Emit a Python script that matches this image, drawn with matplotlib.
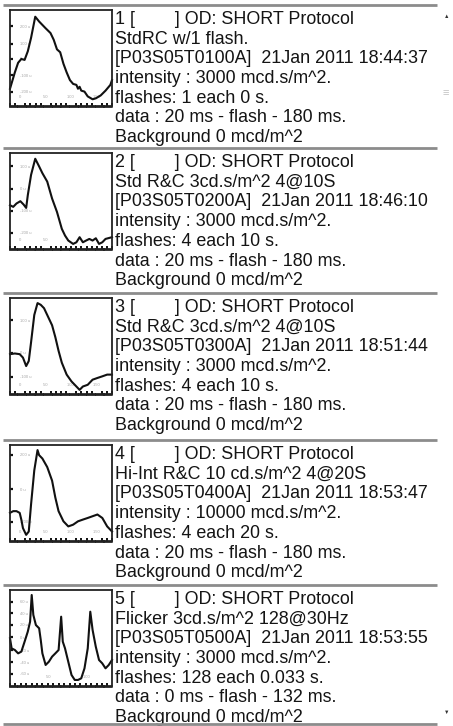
import matplotlib
matplotlib.use('Agg')
import matplotlib.pyplot as plt
from matplotlib.ticker import MultipleLocator

W, H = 453, 726
fig = plt.figure(figsize=(W / 100, H / 100), dpi=100)
FONT = ['Liberation Sans', 'DejaVu Sans']

# ---------------- data (time in ms, amplitude in relative units) ----------------
p1_t = [-20, -10.5, -4.1, 2.2, 8.6, 14.9, 21.3, 29.5, 37.1, 49.8, 59.4, 65.7, 72.1, 78.4, 84.8,
        91.1, 97.5, 103.8, 110.2, 113.3, 116.5, 119.7, 126, 132.4, 142, 148.3, 157.8, 167.3, 176.8, 180]
p1_a = [18, 35, 45, 49, 48, 57, 71, 93, 88, 81, 76, 69, 59, 56, 44,
        35, 27, 23, 22, 18, 20, 16, 15, 10, 7, 8, 11, 16, 22, 27]

p2_t = [-20, -13.7, -7.3, 0.3, 6.7, 11.7, 14.9, 21.3, 29.5, 37.1, 43.5, 53, 62.5, 72.1, 81.6,
        87.9, 94.3, 103.8, 110.2, 116.5, 122.9, 129.2, 135.6, 141.9, 148.3, 154.6, 161, 167.3, 180]
p2_a = [45.6, 43.9, 47.4, 49.8, 46.3, 42.8, 56.1, 77.2, 94, 86, 79, 70.2, 52.6, 38.6, 21,
        14, 8.8, 5.3, 7, 12.3, 7, 8.8, 10.5, 8.8, 11.2, 5.3, 7, 10.5, 12.3]

p3_t = [-20, -10.5, -1, 5.4, 11.7, 16.8, 21.3, 27.6, 34, 40.3, 46.7, 53, 62.5, 68.9, 75.2,
        81.6, 91.1, 100.6, 110.2, 116.5, 122.9, 132.4, 141.9, 151.4, 161, 170.5, 180]
p3_a = [41.5, 42.2, 41.5, 37.9, 29.1, 34.4, 53.9, 82.3, 94.7, 92.9, 89.4, 82.3, 71.6, 59.2, 45,
        32.6, 20.2, 13.1, 7.8, 4.3, 7.8, 9.6, 14.9, 16.7, 18.4, 20.2, 20.2]

p4_t = [-20, -13.7, -7.3, -1, 2.2, 5.4, 11.7, 16.8, 21.3, 27.6, 34, 37.1, 43.5, 53, 62.5,
        68.9, 75.2, 84.8, 94.3, 103.8, 113.3, 122.9, 132.4, 141.9, 151.4, 161, 170.5, 180]
p4_a = [29.3, 31.1, 31.1, 29.3, 22.3, 13.4, 6.4, 9.9, 38.2, 73.5, 94.7, 89.4, 85.9, 77, 62.9,
        45.2, 31.1, 20.5, 15.2, 17, 20.5, 22.3, 24, 25.8, 27.6, 24, 15.2, 9.9]

p5_t = [0, 2.1, 6.3, 10.5, 14.7, 18.9, 23, 26, 28.1, 30.2, 33.5, 37.7, 39.8, 41.9, 46.1, 50.3,
        54.5, 58.7, 62.9, 66.2, 68.3, 71.2, 75.4, 79.6, 83.8, 88, 92.2, 96.4, 100.6, 103.9,
        106.9, 111, 115.2, 119.4, 123.6, 127.8, 132]
p5_a = [49.7, 39.2, 37.5, 34, 35.8, 46.2, 56.6, 67, 94.8, 74, 63.5, 60.1, 47.9, 34, 21.9, 25.3,
        30.6, 34, 37.5, 72.2, 46.2, 39.2, 25.3, 11.5, 6.3, 6.3, 8, 18.4, 39.2, 77.4,
        58.3, 41, 27.1, 23.6, 18.4, 21.9, 27.1]

traces_t = [p1_t, p2_t, p3_t, p4_t, p5_t]
traces_a = [p1_a, p2_a, p3_a, p4_a, p5_a]

y_ticks = [[83, 65, 49, 32, 15], [86, 63, 40, 17], [77, 43, 18], [90, 54, 20],
           [88, 76, 64, 51, 37.5, 25, 13]]
y_tick_labels = [["200 u", "100 u", "0 u", "-100 u", "-200 u"],
                 ["100 u", "0 u", "-100 u", "-200 u"],
                 ["100 u", "0 u", "-100 u"],
                 ["200 u", "0 u", "-200 u"],
                 ["60 u", "40 u", "20 u", "0 u", "-20 u", "-40 u", "-60 u"]]
x_ticks = [[0, 50, 100, 150], [0, 50], [0, 50, 100, 150], [0, 50, 100, 150], [50, 100]]
x_tick_labels = [["0 ", "50 ", "100 ", "150 "], ["0 ", "50 "], ["0 ", "50 ", "100 ", "150 "],
                 ["0 ", "50 ", "100 ", "150 "], ["50 ", "100 "]]

panel_texts = [
    ["1 [        ] OD: SHORT Protocol", "StdRC w/1 flash.",
     "[P03S05T0100A]  21Jan 2011 18:44:37", "intensity : 3000 mcd.s/m^2.",
     "flashes: 1 each 0 s.", "data : 20 ms - flash - 180 ms.", "Background 0 mcd/m^2"],
    ["2 [        ] OD: SHORT Protocol", "Std R&C 3cd.s/m^2 4@10S",
     "[P03S05T0200A]  21Jan 2011 18:46:10", "intensity : 3000 mcd.s/m^2.",
     "flashes: 4 each 10 s.", "data : 20 ms - flash - 180 ms.", "Background 0 mcd/m^2"],
    ["3 [        ] OD: SHORT Protocol", "Std R&C 3cd.s/m^2 4@10S",
     "[P03S05T0300A]  21Jan 2011 18:51:44", "intensity : 3000 mcd.s/m^2.",
     "flashes: 4 each 10 s.", "data : 20 ms - flash - 180 ms.", "Background 0 mcd/m^2"],
    ["4 [        ] OD: SHORT Protocol", "Hi-Int R&C 10 cd.s/m^2 4@20S",
     "[P03S05T0400A]  21Jan 2011 18:53:47", "intensity : 10000 mcd.s/m^2.",
     "flashes: 4 each 20 s.", "data : 20 ms - flash - 180 ms.", "Background 0 mcd/m^2"],
    ["5 [        ] OD: SHORT Protocol", "Flicker 3cd.s/m^2 128@30Hz",
     "[P03S05T0500A]  21Jan 2011 18:53:55", "intensity : 3000 mcd.s/m^2.",
     "flashes: 128 each 0.033 s.", "data : 0 ms - flash - 132 ms.", "Background 0 mcd/m^2"],
]

# ---------------- layout (pixels) ----------------
sep_y = [5, 148, 293, 440, 585]
bottom_line_y = 724
box_x0, box_x1 = 10, 112
text_x = 115
line_gap = 19.7

lay = fig.add_axes([0, 0, 1, 1])
lay.set_xlim(0, W)
lay.set_ylim(H, 0)
lay.axis('off')
lay.patch.set_alpha(0)

for s in sep_y + [bottom_line_y]:
    lay.plot([3, 437], [s, s], color='#8c8c8c', lw=2.0, solid_capstyle='butt', zorder=3)

for i, s in enumerate(sep_y):
    for j, line in enumerate(panel_texts[i]):
        lay.text(text_x, s + 19 + j * line_gap, line, family=FONT, fontsize=12.9,
                 color='#141414', ha='left', va='baseline', zorder=2)

# scrollbar glyphs
lay.text(447, 16, '▲', fontsize=4, color='#333333', ha='center', va='center', family=FONT)
lay.text(446, 93, '≡', fontsize=8, color='#c4c4c4', ha='center', va='center', family=FONT)
lay.text(447, 712, '▼', fontsize=4, color='#333333', ha='center', va='center', family=FONT)

# thumbnails
for i, s in enumerate(sep_y):
    top = s + 5
    hgt = 96
    ax = fig.add_axes([box_x0 / W, 1 - (top + hgt) / H, (box_x1 - box_x0) / W, hgt / H])
    t = traces_t[i]
    a = traces_a[i]
    ax.plot(t, a, color='#111111', lw=1.5, solid_joinstyle='round', clip_on=False)
    ax.set_xlim(t[0], t[-1])
    ax.set_ylim(0, 100)
    for sp in ax.spines.values():
        sp.set_color('#222222')
        sp.set_linewidth(1.3)
    ax.spines['bottom'].set_linewidth(2.0)
    ax.spines['bottom'].set_linestyle((0, (2.2, 0.9)))
    ax.set_yticks(y_ticks[i])
    ax.set_yticklabels(y_tick_labels[i], fontsize=3, color='#a8a8a8', family=FONT)
    for lab in ax.get_yticklabels():
        lab.set_horizontalalignment('left')
    ax.tick_params(axis='y', direction='in', length=2.5, width=1.6, color='#111111', pad=-7)
    ax.set_xticks(x_ticks[i])
    ax.set_xticklabels(x_tick_labels[i], fontsize=3, color='#a8a8a8', family=FONT)
    ax.tick_params(axis='x', direction='in', length=0, pad=-5)
    for lab in ax.get_xticklabels():
        lab.set_verticalalignment('bottom')
    ax.xaxis.set_minor_locator(MultipleLocator(10 if i < 4 else 7))
    ax.tick_params(axis='x', which='minor', direction='in', length=2.5, width=1.4, color='#111111')
    ax.patch.set_facecolor('white')

fig.savefig('out.png', dpi=100, facecolor='white')
